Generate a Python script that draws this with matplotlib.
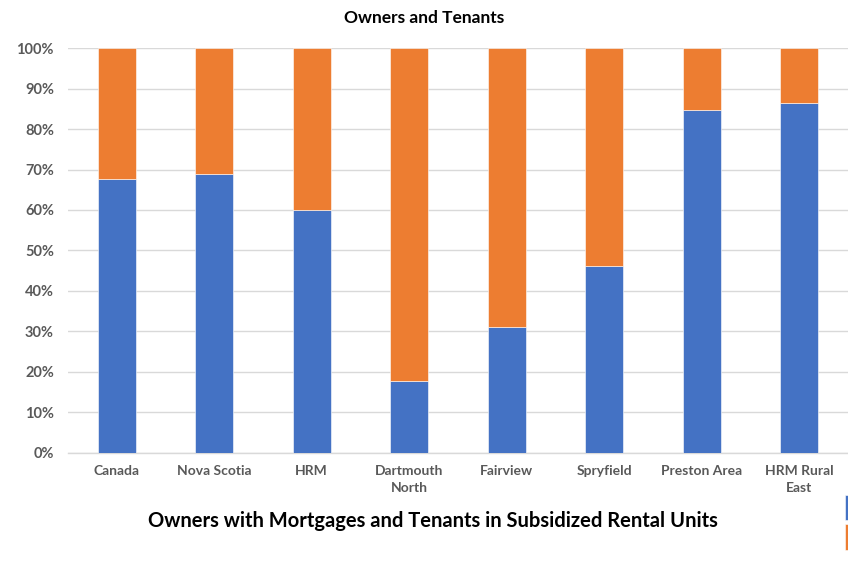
import matplotlib.pyplot as plt
from matplotlib.ticker import PercentFormatter

# Data (share of households, %)
areas = ['Canada', 'Nova Scotia', 'HRM', 'Dartmouth\nNorth', 'Fairview',
         'Spryfield', 'Preston Area', 'HRM Rural\nEast']
owners = [67.7, 68.9, 60.1, 17.8, 31.1, 46.2, 84.6, 86.5]
tenants = [100 - v for v in owners]

blue = '#4472C4'
orange = '#ED7D31'
grey = '#595959'

plt.rcParams['font.family'] = ['Lato', 'DejaVu Sans']
plt.rcParams['font.weight'] = 'bold'

fig = plt.figure(figsize=(8.48, 5.66), dpi=100)
ax = fig.add_axes([0.080, 0.2, 0.920, 0.715])

x = range(len(areas))
bars_o = ax.bar(x, owners, width=0.39, color=blue, edgecolor='white',
                linewidth=0.4, zorder=3)
bars_t = ax.bar(x, tenants, width=0.39, bottom=owners, color=orange,
                edgecolor='white', linewidth=0.4, zorder=3)

ax.set_xlim(-0.5, len(areas) - 0.5)
ax.set_ylim(0, 100)
ax.set_yticks(range(0, 101, 10))
ax.yaxis.set_major_formatter(PercentFormatter(decimals=0))
ax.set_xticks(list(x))
ax.set_xticklabels(areas, fontsize=10, color=grey, fontweight='bold',
                   linespacing=1.45)
ax.tick_params(axis='y', labelsize=10.5, labelcolor=grey, length=0, pad=10)
ax.tick_params(axis='x', length=0, pad=9)
ax.grid(axis='y', color='#d9d9d9', linewidth=1, zorder=0)
for s in ['top', 'right', 'left']:
    ax.spines[s].set_visible(False)
ax.spines['bottom'].set_color('#d9d9d9')
ax.spines['bottom'].set_linewidth(1)

fig.text(0.5, 0.968, 'Owners and Tenants', ha='center', va='center',
         fontsize=12.5, fontweight='bold', color='black')

fig.text(0.51, 0.08, 'Owners with Mortgages and Tenants in Subsidized Rental Units',
         ha='center', va='center', fontsize=14.5, fontweight='bold', color='black')

# legend mostly off the canvas, only the swatch edges show
fig.legend([bars_o, bars_t], ['', ''], loc='upper left',
           bbox_to_anchor=(0.996, 0.126), frameon=False,
           handlelength=1.2, handleheight=2.8, borderpad=0, borderaxespad=0,
           labelspacing=0.3, fontsize=9)

fig.savefig('out.png', dpi=100)
